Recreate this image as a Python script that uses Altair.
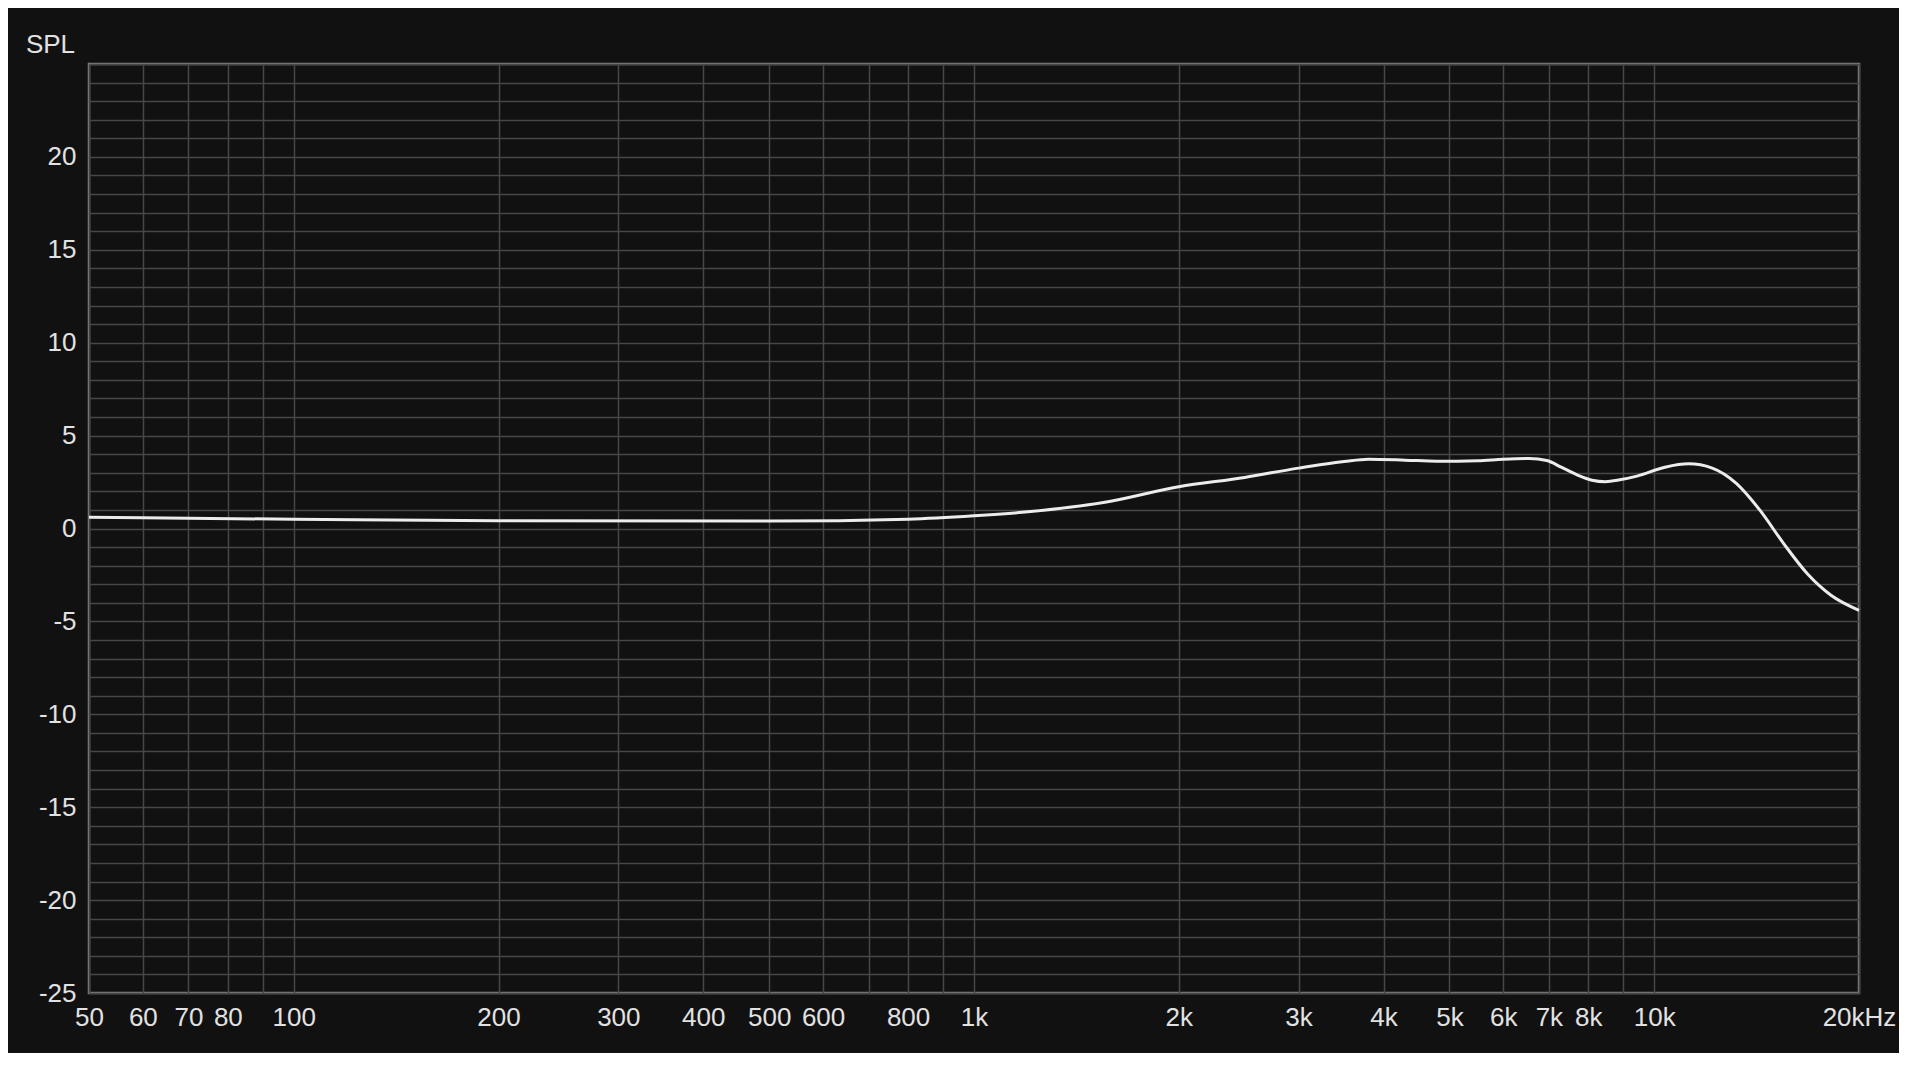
import altair as alt
import pandas as pd

freq = [50, 70, 100, 200, 500, 800, 1000, 1200, 1550, 2000, 2500, 3000, 3500, 3800,
        4300, 4800, 5500, 6000, 6550, 6950, 7300, 7700, 8100, 8480, 8900, 9430,
        10370, 11240, 12170, 13190, 14290, 15490, 16780, 18190, 20000]
spl = [0.6, 0.55, 0.5, 0.42, 0.4, 0.5, 0.68, 0.9, 1.4, 2.25, 2.75, 3.25, 3.6, 3.73,
       3.68, 3.62, 3.65, 3.73, 3.77, 3.66, 3.3, 2.89, 2.6, 2.52, 2.62, 2.82,
       3.3, 3.48, 3.25, 2.44, 1.0, -0.8, -2.42, -3.59, -4.4]

x_grid = [50, 60, 70, 80, 90, 100, 200, 300, 400, 500, 600, 700, 800, 900,
          1000, 2000, 3000, 4000, 5000, 6000, 7000, 8000, 9000, 10000, 20000]
x_labelled = [50, 60, 70, 80, 100, 200, 300, 400, 500, 600, 800,
              1000, 2000, 3000, 4000, 5000, 6000, 7000, 8000, 10000, 20000]
y_grid = list(range(-25, 26))
y_labelled = [-25, -20, -15, -10, -5, 0, 5, 10, 15, 20]

df = pd.DataFrame({"freq": freq, "spl": spl})

lab_list = ",".join(str(v) for v in x_labelled)
x_label_expr = (
    f"indexof([{lab_list}], datum.value) < 0 ? '' : "
    "(datum.value >= 20000 ? '20kHz' : (datum.value >= 1000 ? (datum.value/1000) + 'k' : datum.value + ''))"
)
ylab_list = ",".join(str(v) for v in y_labelled)
y_label_expr = f"indexof([{ylab_list}], datum.value) < 0 ? '' : datum.value + ''"

font = "Liberation Sans"
txt = "#e2e2e2"

chart = alt.Chart(df).mark_line(
    color="#ececec", strokeWidth=3, interpolate="monotone"
).encode(
    x=alt.X("freq:Q",
            scale=alt.Scale(type="log", domain=[50, 20000], nice=False),
            axis=alt.Axis(values=x_grid, labelExpr=x_label_expr, title=None,
                          grid=True, gridColor="#474747", gridWidth=1.5,
                          ticks=False, domain=False, labelOverlap=False,
                          labelFlush=False, labelBound=False,
                          labelFont=font, labelFontSize=26, labelColor=txt,
                          labelPadding=11)),
    y=alt.Y("spl:Q",
            scale=alt.Scale(domain=[-25, 25], nice=False, zero=False),
            axis=alt.Axis(values=y_grid, labelExpr=y_label_expr,
                          title="SPL", titleAngle=0, titleX=-39, titleY=-20,
                          titleAlign="center", titleBaseline="middle",
                          titleFont=font, titleFontSize=26, titleFontWeight="normal",
                          titleColor=txt,
                          grid=True, gridColor="#474747", gridWidth=1.5,
                          ticks=False, domain=False, labelOverlap=False,
                          labelFont=font, labelFontSize=26, labelColor=txt,
                          labelPadding=13, labelBaseline="middle")),
).properties(
    width=1770, height=929,
    autosize=alt.AutoSizeParams(type="none"),
    padding={"left": 81, "top": 56, "right": 40, "bottom": 60},
    background="#111111",
).configure_view(
    stroke="#808080", strokeWidth=2.5, fill="#111111"
)

chart.save("out.html", embed_options={"renderer": "svg", "actions": False})
